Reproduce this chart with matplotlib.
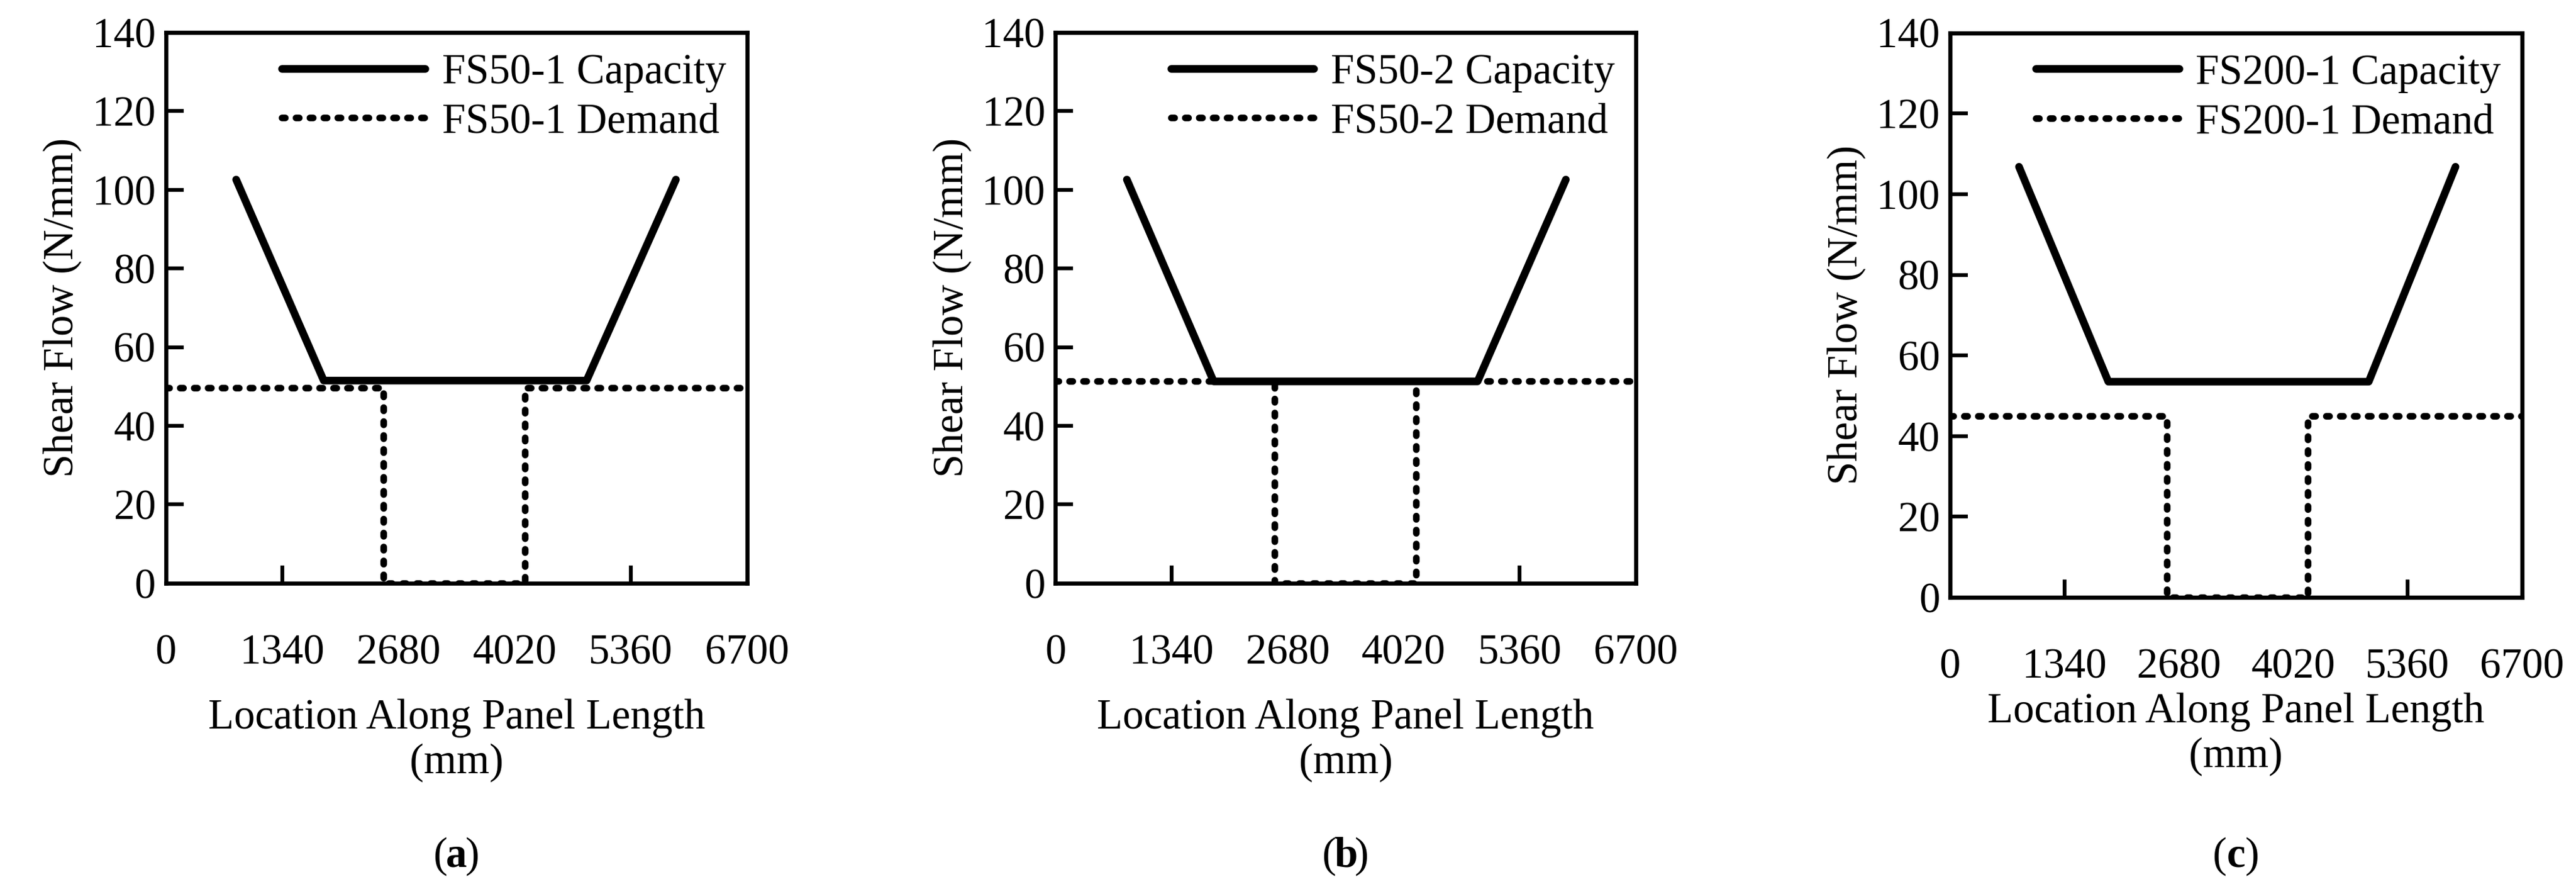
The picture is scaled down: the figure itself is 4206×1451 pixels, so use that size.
import matplotlib
matplotlib.use("Agg")
import matplotlib.pyplot as plt

plt.rcParams['font.family'] = ['Liberation Serif', 'DejaVu Serif']

xticks = [0, 1340, 2680, 4020, 5360, 6700]
yticks = [0, 20, 40, 60, 80, 100, 120, 140]

names = ["FS50-1", "FS50-2", "FS200-1"]
letters = ["a", "b", "c"]

cap_x_a = [810, 1820, 4850, 5880]
cap_y_a = [102.6, 51.5, 51.5, 102.6]
dem_x_a = [0, 2510, 2510, 4140, 4140, 6700]
dem_y_a = [49.7, 49.7, 0, 0, 49.7, 49.7]

cap_x_b = [825, 1827, 4874, 5893]
cap_y_b = [102.6, 51.3, 51.3, 102.6]
dem_x_b = [0, 2528, 2528, 4166, 4166, 6700]
dem_y_b = [51.3, 51.3, 0, 0, 51.3, 51.3]

cap_x_c = [808, 1855, 4905, 5922]
cap_y_c = [106.8, 53.5, 53.5, 106.8]
dem_x_c = [0, 2543, 2543, 4188, 4188, 6700]
dem_y_c = [45, 45, 0, 0, 45, 45]

caps = [(cap_x_a, cap_y_a), (cap_x_b, cap_y_b), (cap_x_c, cap_y_c)]
dems = [(dem_x_a, dem_y_a), (dem_x_b, dem_y_b), (dem_x_c, dem_y_c)]

fig = plt.figure(figsize=(4206/300, 1451/300), dpi=300)
rects = [(0.0644, 0.344, 0.2256, 0.6195),
         (0.4097, 0.344, 0.2253, 0.6195),
         (0.757, 0.328, 0.222, 0.635)]
labelpads = [10, 10, 2]
fs = 16.5
for i in range(3):
    ax = fig.add_axes(rects[i])
    ax.plot(caps[i][0], caps[i][1], color='black', lw=3.0, solid_capstyle='round',
            label=f"{names[i]} Capacity")
    ax.plot(dems[i][0], dems[i][1], color='black', lw=2.6, linestyle=(0, (0.5, 1.6)),
            dash_capstyle='round', label=f"{names[i]} Demand")
    ax.set_xlim(0, 6700)
    ax.set_ylim(0, 140)
    ax.set_xticks(xticks)
    ax.set_yticks(yticks)
    ax.tick_params(axis='x', direction='in', length=7, width=1.5, pad=20, labelsize=fs)
    ax.tick_params(axis='y', direction='in', length=7, width=1.5, pad=4, labelsize=fs)
    xt = ax.xaxis.get_major_ticks()
    for k in (0, 2, 3, 5):
        xt[k].tick1line.set_visible(False)
    yt = ax.yaxis.get_major_ticks()
    for k in (0, 7):
        yt[k].tick1line.set_visible(False)
    for s in ax.spines.values():
        s.set_linewidth(1.6)
    ax.set_xlabel("Location Along Panel Length\n(mm)", fontsize=fs,
                  labelpad=labelpads[i], linespacing=1.2)
    ax.set_ylabel("Shear Flow (N/mm)", fontsize=fs, labelpad=4)
    ax.legend(loc='upper right', frameon=False, fontsize=fs, handlelength=3.4,
              handletextpad=0.4, borderaxespad=0.1, labelspacing=0.25)
    cx = rects[i][0] + rects[i][2] / 2
    fig.text(cx, 0.025, letters[i], fontsize=fs, fontweight='bold', ha='center', va='baseline')
    fig.text(cx - 0.0035, 0.025, "(", fontsize=fs, ha='right', va='baseline')
    fig.text(cx + 0.0035, 0.025, ")", fontsize=fs, ha='left', va='baseline')

fig.savefig("out.png", dpi=300)
